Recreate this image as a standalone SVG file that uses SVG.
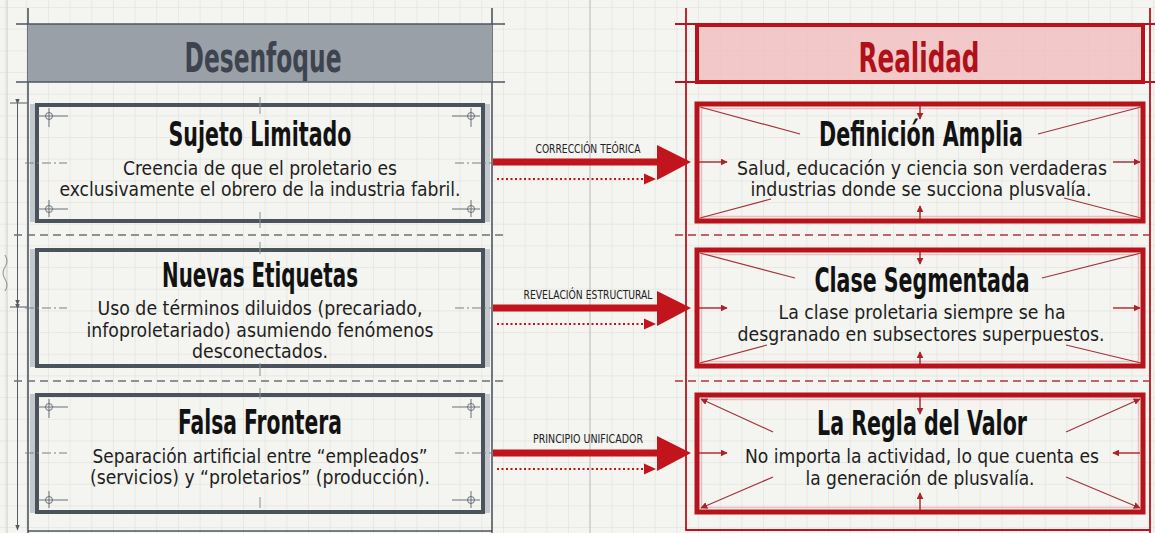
<svg xmlns="http://www.w3.org/2000/svg" width="1155" height="533" viewBox="0 0 1155 533">
<defs>
<pattern id="grid" patternUnits="userSpaceOnUse" x="4.6" y="7" width="21.67" height="21.67">
<path d="M21.67 0H0V21.67" fill="none" stroke="#dcdcd7" stroke-width="1"/>
</pattern>
<marker id="sa" viewBox="0 0 10 10" refX="9" refY="5" markerWidth="7" markerHeight="7" markerUnits="userSpaceOnUse" orient="auto">
<path d="M0 0L10 5L0 10Z" fill="#a8232a"/>
</marker>
<marker id="da" viewBox="0 0 10 10" refX="9" refY="5" markerWidth="6" markerHeight="6" markerUnits="userSpaceOnUse" orient="auto">
<path d="M0 1L10 5L0 9Z" fill="#555c64"/>
</marker>
</defs>
<style>
.frameL{stroke:#4e5660;stroke-width:1.6;fill:none}
.frameR{stroke:#b8141d;stroke-width:1.8;fill:none}
.sepL{stroke:#6b727a;stroke-width:1.3;stroke-dasharray:8 5;fill:none}
.sepR{stroke:#b0353b;stroke-width:1.3;stroke-dasharray:8 5;fill:none}
.boxL{fill:none;stroke:#4a525c;stroke-width:4}
.band{fill:#c3c8cd}
.boxR{fill:none;stroke:#b8121b;stroke-width:5}
.boxRi{fill:none;stroke:#efbdbf;stroke-width:1.5}
.cl{stroke:#7a8088;stroke-width:1;stroke-dasharray:9 3 2 3;fill:none}
.tick{stroke:#8a9098;stroke-width:1;fill:none}
.mark{stroke:#6a7179;stroke-width:1;fill:none}
.diag{stroke:#a3343a;stroke-width:1.2;fill:none}
.sm{stroke:#a8232a;stroke-width:1.4;fill:none}
.title{font-family:"Liberation Sans Narrow","DejaVu Sans Condensed","Liberation Sans",sans-serif;font-weight:bold;font-size:33px;fill:#121212;text-anchor:middle}
.body{font-family:"Liberation Sans Narrow","DejaVu Sans Condensed","Liberation Sans",sans-serif;font-size:19px;fill:#1e1e1e;text-anchor:middle}
.head{font-family:"Liberation Sans Narrow","DejaVu Sans Condensed","Liberation Sans",sans-serif;font-weight:bold;font-size:40px;text-anchor:middle}
.lab{font-family:"Liberation Sans Narrow","DejaVu Sans Condensed","Liberation Sans",sans-serif;font-size:12.5px;fill:#222;text-anchor:middle}
.shaft{fill:#c1141c}
.dot{stroke:#c1141c;stroke-width:2;stroke-dasharray:2 2.5;fill:none}
</style>
<rect width="1155" height="533" fill="#f4f4f0"/>
<rect width="1155" height="533" fill="url(#grid)"/>
<line x1="590" y1="0" x2="590" y2="533" stroke="#c4c6c8" stroke-width="1.2"/>

<g id="frame-left">
<line x1="7" y1="0" x2="7" y2="533" stroke="#c9cccf" stroke-width="1"/>
<line x1="28" y1="8" x2="28" y2="533" class="frameL"/>
<line x1="492" y1="8" x2="492" y2="533" class="frameL"/>
<line x1="28" y1="531" x2="492" y2="531" class="frameL"/>
<line x1="17.5" y1="104" x2="17.5" y2="305" stroke="#555c64" stroke-width="1" marker-start="url(#da)" marker-end="url(#da)"/>
<line x1="17.5" y1="309" x2="17.5" y2="530" stroke="#555c64" stroke-width="1" marker-start="url(#da)" marker-end="url(#da)"/>
<line x1="10" y1="103" x2="27" y2="103" stroke="#555c64" stroke-width="1"/>
<line x1="10" y1="307" x2="27" y2="307" stroke="#555c64" stroke-width="1"/>
<path d="M5 255q4 6 0 12t0 12q4 6 0 12" stroke="#8a9098" stroke-width="1" fill="none"/>
<line x1="14" y1="235" x2="505" y2="235" class="sepL"/>
<line x1="14" y1="381" x2="505" y2="381" class="sepL"/>
</g>

<g id="header-left">
<rect x="28" y="24" width="464" height="58" fill="#9aa0a7"/>
<line x1="16" y1="24" x2="505" y2="24" class="frameL"/>
<line x1="16" y1="82" x2="505" y2="82" class="frameL"/>
<text x="263" y="72" class="head" fill="#3d4450" textLength="157" lengthAdjust="spacingAndGlyphs">Desenfoque</text>
</g>

<g id="node-sujeto">
<rect x="30" y="104" width="6" height="118" class="band"/>
<rect x="484" y="104" width="6" height="118" class="band"/>
<rect x="37" y="105" width="446" height="116" class="boxL"/>
<line x1="25" y1="163" x2="67" y2="163" class="cl"/>
<line x1="455" y1="163" x2="495" y2="163" class="cl"/>
<line x1="260" y1="97" x2="260" y2="114" class="tick"/>
<line x1="260" y1="212" x2="260" y2="228" class="tick"/>
<g class="mark">
<circle cx="49" cy="116" r="3.5"/><path d="M38 116H68M49 108V127"/>
<circle cx="471" cy="116" r="3.5"/><path d="M452 116H480M471 108V127"/>
<circle cx="49" cy="209" r="3.5"/><path d="M38 209H68M49 200V217"/>
<circle cx="471" cy="209" r="3.5"/><path d="M452 209H480M471 200V217"/>
</g>
<text x="260" y="146" class="title" textLength="183" lengthAdjust="spacingAndGlyphs">Sujeto Limitado</text>
<text x="260" y="175" class="body" textLength="274" lengthAdjust="spacingAndGlyphs">Creencia de que el proletario es</text>
<text x="260" y="196" class="body" textLength="401" lengthAdjust="spacingAndGlyphs">exclusivamente el obrero de la industria fabril.</text>
</g>

<g id="node-etiquetas">
<rect x="30" y="249" width="6" height="118" class="band"/>
<rect x="484" y="249" width="6" height="118" class="band"/>
<rect x="37" y="250" width="446" height="116" class="boxL"/>
<line x1="25" y1="308" x2="67" y2="308" class="cl"/>
<line x1="455" y1="308" x2="495" y2="308" class="cl"/>
<line x1="260" y1="242" x2="260" y2="254" class="tick"/>
<line x1="260" y1="363" x2="260" y2="376" class="tick"/>
<text x="260" y="287" class="title" textLength="196" lengthAdjust="spacingAndGlyphs">Nuevas Etiquetas</text>
<text x="260" y="315" class="body" textLength="325" lengthAdjust="spacingAndGlyphs">Uso de términos diluidos (precariado,</text>
<text x="260" y="337" class="body" textLength="347" lengthAdjust="spacingAndGlyphs">infoproletariado) asumiendo fenómenos</text>
<text x="260" y="358" class="body" textLength="136" lengthAdjust="spacingAndGlyphs">desconectados.</text>
</g>

<g id="node-frontera">
<rect x="30" y="394" width="6" height="119" class="band"/>
<rect x="484" y="394" width="6" height="119" class="band"/>
<rect x="37" y="395" width="446" height="117" class="boxL"/>
<line x1="25" y1="453" x2="67" y2="453" class="cl"/>
<line x1="455" y1="453" x2="495" y2="453" class="cl"/>
<line x1="260" y1="388" x2="260" y2="399" class="tick"/>
<line x1="260" y1="497" x2="260" y2="508" class="tick"/>
<g class="mark">
<circle cx="49" cy="407" r="3.5"/><path d="M38 407H68M49 399V418"/>
<circle cx="471" cy="407" r="3.5"/><path d="M452 407H480M471 399V418"/>
<circle cx="49" cy="500" r="3.5"/><path d="M38 500H68M49 491V508"/>
<circle cx="471" cy="500" r="3.5"/><path d="M452 500H480M471 491V508"/>
</g>
<text x="260" y="434" class="title" textLength="164" lengthAdjust="spacingAndGlyphs">Falsa Frontera</text>
<text x="260" y="463" class="body" textLength="335" lengthAdjust="spacingAndGlyphs">Separación artificial entre “empleados”</text>
<text x="260" y="484" class="body" textLength="340" lengthAdjust="spacingAndGlyphs">(servicios) y “proletarios” (producción).</text>
</g>

<g id="frame-right">
<line x1="686" y1="8" x2="686" y2="531" class="frameR"/>
<line x1="1150" y1="8" x2="1150" y2="533" class="frameR"/>
<line x1="686" y1="530" x2="1150" y2="530" class="frameR"/>
<line x1="675" y1="235" x2="1155" y2="235" class="sepR"/>
<line x1="675" y1="381" x2="1155" y2="381" class="sepR"/>
</g>

<g id="header-right">
<line x1="675" y1="24" x2="1155" y2="24" class="frameR"/>
<line x1="675" y1="82" x2="1155" y2="82" class="frameR"/>
<rect x="697" y="25" width="446" height="57" fill="#f1bfc2" fill-opacity="0.85" stroke="#b8121b" stroke-width="4"/>
<text x="919" y="72" class="head" fill="#b0101a" textLength="121" lengthAdjust="spacingAndGlyphs">Realidad</text>
</g>

<g id="node-definicion">
<rect x="697" y="104" width="446" height="117" class="boxR"/>
<rect x="701.5" y="108.5" width="437" height="108" class="boxRi"/>
<path class="diag" d="M700 107L800 134M1141 107L1038 134M700 218L771 199M1141 218L1064 198"/>
<line x1="920" y1="106" x2="920" y2="119" class="sm" marker-end="url(#sa)"/>
<line x1="920" y1="219" x2="920" y2="206" class="sm" marker-end="url(#sa)"/>
<line x1="699" y1="162" x2="727" y2="162" class="sm" marker-end="url(#sa)"/>
<line x1="1113" y1="162" x2="1140" y2="162" class="sm" marker-end="url(#sa)"/>
<text x="921" y="146" class="title" textLength="204" lengthAdjust="spacingAndGlyphs">Definición Amplia</text>
<text x="922" y="175" class="body" textLength="370" lengthAdjust="spacingAndGlyphs">Salud, educación y ciencia son verdaderas</text>
<text x="921" y="196" class="body" textLength="341" lengthAdjust="spacingAndGlyphs">industrias donde se succiona plusvalía.</text>
</g>

<g id="node-segmentada">
<rect x="697" y="250" width="446" height="116" class="boxR"/>
<rect x="701.5" y="254.5" width="437" height="107" class="boxRi"/>
<path class="diag" d="M700 253L795 278M1141 253L1042 278M700 363L767 345M1141 363L1066 345"/>
<line x1="920" y1="252" x2="920" y2="264" class="sm" marker-end="url(#sa)"/>
<line x1="920" y1="364" x2="920" y2="352" class="sm" marker-end="url(#sa)"/>
<line x1="699" y1="308" x2="727" y2="308" class="sm" marker-end="url(#sa)"/>
<line x1="1113" y1="308" x2="1140" y2="308" class="sm" marker-end="url(#sa)"/>
<text x="922" y="292" class="title" textLength="215" lengthAdjust="spacingAndGlyphs">Clase Segmentada</text>
<text x="922" y="319" class="body" textLength="287" lengthAdjust="spacingAndGlyphs">La clase proletaria siempre se ha</text>
<text x="921" y="341" class="body" textLength="367" lengthAdjust="spacingAndGlyphs">desgranado en subsectores superpuestos.</text>
</g>

<g id="node-regla">
<rect x="697" y="395" width="446" height="117" class="boxR"/>
<rect x="701.5" y="399.5" width="437" height="108" class="boxRi"/>
<g class="diag" marker-end="url(#sa)">
<line x1="773" y1="432" x2="701" y2="399"/>
<line x1="1066" y1="432" x2="1140" y2="399"/>
<line x1="773" y1="477" x2="701" y2="508"/>
<line x1="1066" y1="477" x2="1140" y2="508"/>
</g>
<line x1="920" y1="397" x2="920" y2="414" class="sm" marker-end="url(#sa)"/>
<line x1="920" y1="510" x2="920" y2="493" class="sm" marker-end="url(#sa)"/>
<line x1="699" y1="453" x2="727" y2="453" class="sm" marker-end="url(#sa)"/>
<line x1="1140" y1="453" x2="1113" y2="453" class="sm" marker-end="url(#sa)"/>
<text x="922" y="435" class="title" textLength="210" lengthAdjust="spacingAndGlyphs">La Regla del Valor</text>
<text x="922" y="463" class="body" textLength="354" lengthAdjust="spacingAndGlyphs">No importa la actividad, lo que cuenta es</text>
<text x="920" y="485" class="body" textLength="229" lengthAdjust="spacingAndGlyphs">la generación de plusvalía.</text>
</g>

<g id="connectors">
<rect x="493" y="158.5" width="166" height="7" class="shaft"/>
<path d="M657 145L691 162L657 180Z" class="shaft"/>
<line x1="497" y1="179" x2="645" y2="179" class="dot"/>
<path d="M644 173.5L656 179L644 184.5Z" class="shaft"/>
<text x="588" y="153" class="lab" textLength="105" lengthAdjust="spacingAndGlyphs">CORRECCIÓN TEÓRICA</text>

<rect x="493" y="304.5" width="166" height="7" class="shaft"/>
<path d="M657 291L691 308L657 326Z" class="shaft"/>
<line x1="497" y1="324" x2="645" y2="324" class="dot"/>
<path d="M644 318.5L656 324L644 329.5Z" class="shaft"/>
<text x="588" y="299" class="lab" textLength="129" lengthAdjust="spacingAndGlyphs">REVELACIÓN ESTRUCTURAL</text>

<rect x="493" y="449.5" width="166" height="7" class="shaft"/>
<path d="M657 436L691 453L657 471Z" class="shaft"/>
<line x1="497" y1="469" x2="645" y2="469" class="dot"/>
<path d="M644 463.5L656 469L644 474.5Z" class="shaft"/>
<text x="588" y="443" class="lab" textLength="110" lengthAdjust="spacingAndGlyphs">PRINCIPIO UNIFICADOR</text>
</g>
</svg>
